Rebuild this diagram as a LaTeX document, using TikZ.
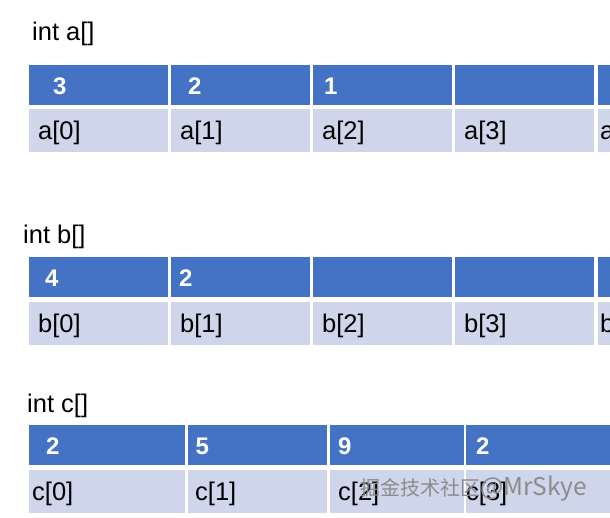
\documentclass[tikz,border=0pt]{standalone}
\usepackage{fontspec}
\setmainfont{Liberation Sans}
\newfontfamily\cjkfont{Noto Sans CJK SC}
\definecolor{hdrblue}{HTML}{4472C4}
\definecolor{bodylight}{HTML}{CFD5EA}
\definecolor{wmgray}{HTML}{8C8C8C}
\tikzset{
  hcell/.style={fill=hdrblue, draw=none, inner sep=0pt, outer sep=0pt, anchor=north west, minimum height=40pt},
  bcell/.style={fill=bodylight, draw=none, inner sep=0pt, outer sep=0pt, anchor=north west, minimum height=42.5pt},
  numtext/.style={text=white, inner sep=0pt, anchor=base west, font=\fontsize{24}{28}\selectfont\bfseries},
  idxtext/.style={text=black, inner sep=0pt, anchor=base west, font=\fontsize{25.5}{30}\selectfont},
  titletext/.style={text=black, inner sep=0pt, anchor=base west, font=\fontsize{25.5}{30}\selectfont},
  wmtext/.style={text=wmgray, inner sep=0pt, anchor=west, font=\cjkfont}
}
\begin{document}
\begin{tikzpicture}[x=1pt,y=-1pt]
\clip (0,0) rectangle (610,517);
\fill[white] (0,0) rectangle (610,517);
% ---------- int a[] ----------
\node[titletext] (ta) at (32,40) {int a[]};
\foreach \i/\x in {0/29,1/170.5,2/312.5,3/455,4/597.5}{
  \node[hcell, minimum width=139pt] (ah\i) at (\x,65) {};
  \node[bcell, minimum width=139pt, minimum height=43pt] (ab\i) at (\x,109) {};
}
\node[numtext] (ah0t) at (53,94) {3};
\node[numtext] (ah1t) at (188,94) {2};
\node[numtext] (ah2t) at (324,94) {1};
\foreach \i/\x in {0/38,1/180,2/322,3/464,4/600}{
  \node[idxtext] (ab\i t) at (\x,139) {a[\i]};
}
% ---------- int b[] ----------
\node[titletext] (tb) at (23,243) {int b[]};
\foreach \i/\x in {0/29,1/170.5,2/312.5,3/455,4/597.5}{
  \node[hcell, minimum width=139pt] (bh\i) at (\x,257) {};
  \node[bcell, minimum width=139pt] (bb\i) at (\x,302) {};
}
\node[numtext] (bh0t) at (45,286) {4};
\node[numtext] (bh1t) at (179,286) {2};
\foreach \i/\x in {0/38,1/180,2/322,3/464,4/600}{
  \node[idxtext] (bb\i t) at (\x,332) {b[\i]};
}
% ---------- int c[] ----------
\node[titletext] (tc) at (27,412) {int c[]};
\node[hcell, minimum width=156pt] (ch0) at (29,425) {};
\node[hcell, minimum width=139.5pt] (ch1) at (187.5,425) {};
\node[hcell, minimum width=134.5pt] (ch2) at (329.5,425) {};
\node[hcell, minimum width=150pt] (ch3) at (466,425) {};
\node[bcell, minimum width=156pt] (cb0) at (29,470) {};
\node[bcell, minimum width=139.5pt] (cb1) at (187.5,470) {};
\node[bcell, minimum width=134.5pt] (cb2) at (329.5,470) {};
\node[bcell, minimum width=150pt] (cb3) at (466,470) {};
\node[numtext] (ch0t) at (46,454) {2};
\node[numtext] (ch1t) at (195.5,454) {5};
\node[numtext] (ch2t) at (338,454) {9};
\node[numtext] (ch3t) at (476,454) {2};
\node[idxtext] (cb0t) at (32,500) {c[0]};
\node[idxtext] (cb1t) at (195,500) {c[1]};
\node[idxtext] (cb2t) at (338,500) {c[2]};
\node[idxtext] (cb3t) at (466,500) {c[3]};
% watermark
\node[wmtext] (wm) at (360,489) {{\fontsize{20}{24}\selectfont 掘金技术社区}{\fontsize{24.5}{28}\selectfont @MrSkye}};
\end{tikzpicture}
\end{document}
